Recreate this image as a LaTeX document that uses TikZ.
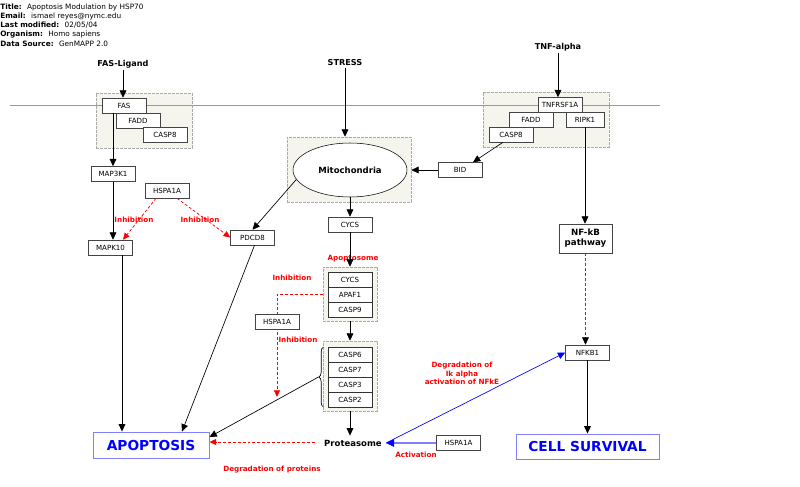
\documentclass[tikz,border=0pt]{standalone}
\usepackage{fontspec}
\setmainfont{DejaVu Sans}
\usetikzlibrary{arrows.meta,shapes.geometric,decorations.pathreplacing,calc}
\definecolor{grpfill}{HTML}{F5F5EE}
\definecolor{grpline}{HTML}{AAAAAA}
\definecolor{boxline}{HTML}{444444}
\definecolor{ltblue}{HTML}{8080FF}
\definecolor{memb}{HTML}{999999}
\definecolor{rd}{HTML}{FF0000}
\begin{document}
\begin{tikzpicture}[x=0.75pt,y=-0.75pt,
  gene/.style={draw=boxline, fill=white, inner sep=0pt, minimum width=33pt, minimum height=11.25pt, font=\fontsize{5.3}{6}\selectfont},
  cbox/.style={gene, draw=black!80, line width=0.6pt},
  grp/.style={draw=grpline, dash pattern=on 2pt off 1pt, fill=grpfill, inner sep=0pt},
  lbl/.style={font=\fontsize{6.1}{7}\selectfont\bfseries, inner sep=1pt},
  redlbl/.style={font=\fontsize{5.4}{6.4}\selectfont\bfseries, text=rd, inner sep=0pt, align=center},
  hdr/.style={anchor=west, font=\fontsize{5.5}{6.5}\selectfont, inner sep=0pt},
  arr/.style={-{Triangle[length=5.5pt,width=5pt]}, line width=0.5pt},
  redarr/.style={draw=rd, -{Triangle[length=5pt,width=4.5pt,color=rd]}, dash pattern=on 2.2pt off 1.5pt, line width=0.55pt},
  big/.style={draw=ltblue, line width=0.7pt, fill=white, text=blue, font=\fontsize{10.3}{12}\selectfont\bfseries, inner sep=0pt}
]
\useasboundingbox (0,0) rectangle (800,486);

% header
\node[hdr] (h1) at (0,7) {\textbf{Title:}\hspace{4pt}Apoptosis Modulation by HSP70};
\node[hdr] (h2) at (0,16.5) {\textbf{Email:}\hspace{4pt}ismael reyes@nymc.edu};
\node[hdr] (h3) at (0,25.5) {\textbf{Last modified:}\hspace{4pt}02/05/04};
\node[hdr] (h4) at (0,34.5) {\textbf{Organism:}\hspace{4pt}Homo sapiens};
\node[hdr] (h5) at (0,43.5) {\textbf{Data Source:}\hspace{4pt}GenMAPP 2.0};

% groups
\node[grp, minimum width=72pt, minimum height=41.25pt] (fasg) at (144,120.5) {};
\node[grp, minimum width=94.5pt, minimum height=41.25pt] (tnfg) at (546,119.5) {};
\node[grp, minimum width=93pt, minimum height=48.75pt] (mitog) at (349,169.5) {};
\node[grp, minimum width=40.5pt, minimum height=40.5pt] (apog) at (350,294) {};
\node[grp, minimum width=40.5pt, minimum height=52.5pt] (casg) at (350,376) {};

% membrane
\draw[memb, line width=0.6pt] (10,105) -- (660,105);

% top labels
\node[lbl] (FASL) at (123,64) {FAS-Ligand};
\node[lbl] (STRESS) at (345,63) {STRESS};
\node[lbl] (TNF) at (558,47) {TNF-alpha};

% genes
\node[gene] (FAS) at (124,105.5) {FAS};
\node[gene] (FADDa) at (138,120.5) {FADD};
\node[gene] (CASP8a) at (165,135) {CASP8};
\node[gene] (TNFR) at (560,105) {TNFRSF1A};
\node[gene] (FADDb) at (531,119.5) {FADD};
\node[gene, minimum width=28.5pt] (RIPK1) at (585,119.5) {RIPK1};
\node[gene] (CASP8b) at (511,134.5) {CASP8};
\node[gene] (MAP3K1) at (113,174) {MAP3K1};
\node[gene] (HSP1) at (167,190.5) {HSPA1A};
\node[gene] (MAPK10) at (110.5,247.5) {MAPK10};
\node[gene] (PDCD8) at (252.5,237.5) {PDCD8};
\node[gene] (BID) at (460,170) {BID};
\node[gene] (CYCS) at (350,224.5) {CYCS};
\node[cbox] (CYCS2) at (350,279.5) {CYCS};
\node[cbox] (APAF1) at (350,294.5) {APAF1};
\node[cbox] (CASP9) at (350,309.5) {CASP9};
\node[cbox] (CASP6) at (350,354.5) {CASP6};
\node[cbox] (CASP7) at (350,369.5) {CASP7};
\node[cbox] (CASP3) at (350,384.5) {CASP3};
\node[cbox] (CASP2) at (350,399.5) {CASP2};
\node[gene] (HSP3) at (458.5,443) {HSPA1A};
\node[gene] (NFKB1) at (587.5,352.5) {NFKB1};
\node[draw=boxline, fill=white, font=\fontsize{6.5}{7.5}\selectfont\bfseries, align=center, minimum width=39.75pt, minimum height=21.75pt, inner sep=0pt] (NFKBP) at (585.5,238.5) {NF-kB\\pathway};

\node[draw=black, fill=white, ellipse, minimum width=85.5pt, minimum height=40.5pt, inner sep=0pt, font=\fontsize{6.4}{7.5}\selectfont\bfseries] (mito) at (350,170) {Mitochondria};

\node[big, minimum width=87pt, minimum height=19.5pt] (APOP) at (151,445) {APOPTOSIS};
\node[big, minimum width=107.25pt, minimum height=18.75pt] (CS) at (587.5,446.5) {CELL SURVIVAL};
\node[font=\fontsize{6.4}{7}\selectfont\bfseries, inner sep=3pt] (PROT) at (353,443) {Proteasome};

% labels
\node[redlbl] (inh1) at (134,220) {Inhibition};
\node[redlbl] (inh2) at (200,220) {Inhibition};
\node[redlbl] (inh3) at (292,278) {Inhibition};
\node[redlbl] (inh4) at (298,340) {Inhibition};
\node[redlbl] (apolbl) at (353,259) {Apoptosome};
\node[redlbl] (degp) at (272,470) {Degradation of proteins};
\node[redlbl] (act) at (416,455) {Activation};
\node[redlbl] (degi) at (462,373.5) {Degradation of\\Ik alpha\\activation of NFkE};

% connectors
\draw[arr] (FASL.south) -- (FASL.south |- FAS.north);
\draw[arr] (FAS.south -| MAP3K1.north) -- (MAP3K1.north);
\draw[arr] (MAP3K1.south) -- (MAP3K1.south |- MAPK10.north);
\draw[redarr] ($(HSP1.south)+(-11,0)$) -- ($(MAPK10.north)+(12.5,0)$);
\draw[redarr] ($(HSP1.south)+(10,0)$) -- (PDCD8.west);
\draw[arr] (mito.190) -- (PDCD8.north);
\draw[arr] (STRESS.south) -- (STRESS.south |- mitog.north);
\draw[arr] (BID.west) -- (BID.west -| mitog.east);
\draw[arr] ($(CASP8b.south)+(-8,0)$) -- ($(BID.north)+(13,0)$);
\draw[arr] (TNF.south) -- (TNF.south |- TNFR.north);
\draw[arr] (RIPK1.south) -- (RIPK1.south |- NFKBP.north);
\draw[-{Triangle[length=5.5pt,width=5pt,color=black]}, line width=0.5pt, dash pattern=on 2.2pt off 1.5pt, draw=black!70] (NFKBP.south) -- (NFKBP.south |- NFKB1.north);
\draw[arr] (NFKB1.south) -- (NFKB1.south |- CS.north);
\draw[arr] (mito.south) -- (CYCS.north);
\draw[arr] (CYCS.south) -- (apog.north);
\draw[arr] (apog.south) -- (casg.north);
\draw[arr] (casg.south) -- (casg.south |- PROT.north);

% brace and link to apoptosis
\draw[line width=0.5pt, decorate, decoration={brace, amplitude=3.5pt}] (323.5,407) -- (323.5,347);
\coordinate (btip) at (318.5,377);
\draw[arr] (btip) -- ($(APOP.east)+(0,-8)$);

\path ($(MAPK10.south)+(11.5,0)$) coordinate (m10o);
\draw[arr] (m10o) -- (m10o |- APOP.north);
\draw[arr] ($(PDCD8.south)+(2,0)$) -- ($(APOP.north)+(31,0)$);
\draw[redarr, line width=0.75pt, shorten <=4pt] ($(PROT.west)+(0,-1)$) -- ($(PROT.west -| APOP.east)+(0,-1)$);

\draw[ltblue, line width=1.3pt, -{Triangle[length=6pt,width=5.5pt,color=blue]}] (HSP3.west) -- (PROT.east);
\draw[arr, blue] (PROT.east) -- (NFKB1.west);

% inhibition of apoptosome
\coordinate (inhEnd) at (277,397);
\draw[redarr] (apog.west) -| (inhEnd);
\node[gene] (HSP2) at (277,321.5) {HSPA1A};

\end{tikzpicture}
\end{document}
